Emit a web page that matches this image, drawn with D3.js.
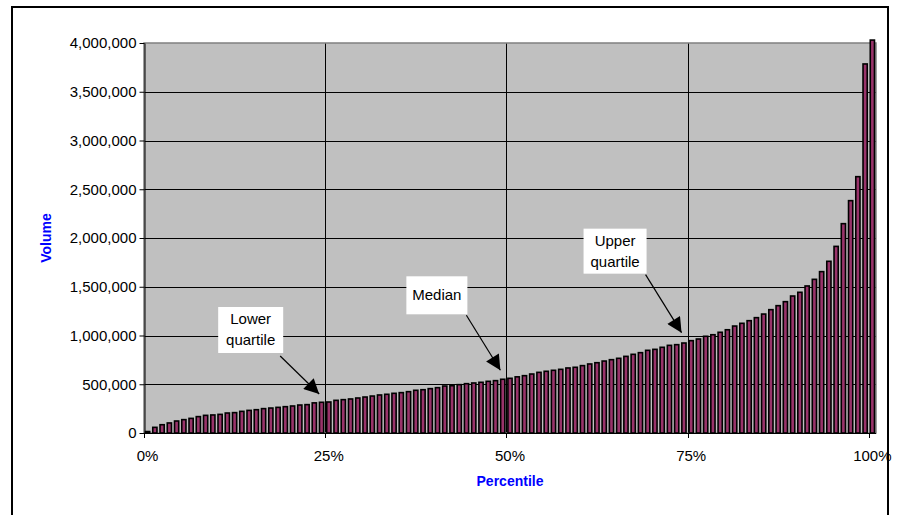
<!DOCTYPE html>
<html>
<head>
<meta charset="utf-8">
<script src="https://cdn.jsdelivr.net/npm/d3@7/dist/d3.min.js"></script>
<style>
  html, body { margin: 0; padding: 0; background: #ffffff; }
  svg { display: block; }
  text { font-family: "Liberation Sans", Arial, sans-serif; }
</style>
</head>
<body>
<svg id="chart" width="897" height="515"></svg>
<script>
// Percentile categories 0% .. 100%
const percentiles = d3.range(0, 101);

// Volume at each percentile
const volumes = [
  15000, 58000, 85000, 103000, 123000, 137000, 150000, 168000, 181000, 185000,
  191000, 205000, 209000, 222000, 232000, 239000, 250000, 256000, 263000, 270000,
  277000, 287000, 291000, 309000, 315000, 318000, 335000, 342000, 349000, 359000,
  369000, 379000, 390000, 397000, 407000, 414000, 424000, 438000, 444000, 455000,
  465000, 482000, 485000, 496000, 506000, 513000, 520000, 530000, 537000, 551000,
  561000, 576000, 588000, 605000, 622000, 633000, 643000, 653000, 667000, 674000,
  691000, 708000, 721000, 738000, 752000, 766000, 786000, 807000, 824000, 848000,
  858000, 879000, 899000, 906000, 923000, 947000, 964000, 992000, 1008000, 1033000,
  1059000, 1097000, 1125000, 1152000, 1183000, 1220000, 1265000, 1306000, 1347000, 1405000,
  1443000, 1508000, 1576000, 1655000, 1761000, 1914000, 2147000, 2383000, 2629000, 3785000,
  4030000
];

// Axis ticks
const yTicks = [0, 500000, 1000000, 1500000, 2000000, 2500000, 3000000, 3500000, 4000000];
const xTickCategories = [0, 25, 50, 75, 100];
const xTickLabels = ["0%", "25%", "50%", "75%", "100%"];

// Call-out labels and the percentile each one points at
const calloutLines = [["Lower", "quartile"], ["Median"], ["Upper", "quartile"]];
const calloutTargets = [25, 50, 75];

const svg = d3.select("#chart");
const plot = { left: 144, right: 876, top: 43, bottom: 433 };

const x = d3.scaleBand()
  .domain(percentiles)
  .range([plot.left, plot.right])
  .paddingInner(0)
  .paddingOuter(0);

const y = d3.scaleLinear()
  .domain([0, 4000000])
  .range([plot.bottom, plot.top]);

// Outer chart frame
svg.append("rect")
  .attr("x", 12).attr("y", 7)
  .attr("width", 876).attr("height", 530)
  .attr("fill", "none")
  .attr("stroke", "#000")
  .attr("stroke-width", 2);

// Plot background
svg.append("rect")
  .attr("x", plot.left).attr("y", plot.top)
  .attr("width", plot.right - plot.left)
  .attr("height", plot.bottom - plot.top)
  .attr("fill", "#c0c0c0");

// Horizontal gridlines
svg.append("g")
  .selectAll("line")
  .data(yTicks.filter(d => d > 0 && d < 4000000))
  .join("line")
  .attr("x1", plot.left).attr("x2", plot.right)
  .attr("y1", d => Math.round(y(d)) + 0.5)
  .attr("y2", d => Math.round(y(d)) + 0.5)
  .attr("stroke", "#000")
  .attr("stroke-width", 1);

// Vertical gridlines at the quartile boundaries
svg.append("g")
  .selectAll("line")
  .data(xTickCategories.filter(d => d > 0 && d < 100))
  .join("line")
  .attr("x1", d => Math.round(x(d)) + 0.5)
  .attr("x2", d => Math.round(x(d)) + 0.5)
  .attr("y1", plot.top).attr("y2", plot.bottom)
  .attr("stroke", "#000")
  .attr("stroke-width", 1);

// Plot area border
svg.append("rect")
  .attr("x", plot.left).attr("y", plot.top)
  .attr("width", plot.right - plot.left)
  .attr("height", plot.bottom - plot.top)
  .attr("fill", "none")
  .attr("stroke", "#808080")
  .attr("stroke-width", 1.5);

// Bars
const barW = 4.2;
svg.append("g")
  .selectAll("rect")
  .data(percentiles)
  .join("rect")
  .attr("x", d => x(d) + x.bandwidth() / 2 - barW / 2)
  .attr("y", d => y(volumes[d]))
  .attr("width", barW)
  .attr("height", d => y(0) - y(volumes[d]))
  .attr("fill", "#99336a")
  .attr("stroke", "#000")
  .attr("stroke-width", 1.6);

// Y axis
const yAxis = svg.append("g")
  .attr("transform", `translate(${plot.left + 0.5},0)`)
  .call(d3.axisLeft(y).tickValues(yTicks).tickFormat(d3.format(",")).tickSize(5).tickSizeOuter(0).tickPadding(3));
yAxis.select(".domain").attr("stroke", "#000");
yAxis.selectAll(".tick line").attr("stroke", "#000");
yAxis.selectAll("text")
  .attr("font-size", 15)
  .attr("font-family", "Liberation Sans, Arial, sans-serif")
  .attr("fill", "#000");

// X axis: ticks on category boundaries, labels centred in the category
const xAxis = svg.append("g");
xAxis.append("line")
  .attr("x1", plot.left).attr("x2", plot.right)
  .attr("y1", plot.bottom + 0.5).attr("y2", plot.bottom + 0.5)
  .attr("stroke", "#000");
xAxis.selectAll("line.tick")
  .data(xTickCategories)
  .join("line")
  .attr("class", "tick")
  .attr("x1", d => Math.round(x(d)) + 0.5)
  .attr("x2", d => Math.round(x(d)) + 0.5)
  .attr("y1", plot.bottom).attr("y2", plot.bottom + 5)
  .attr("stroke", "#000");
xAxis.selectAll("text")
  .data(xTickCategories)
  .join("text")
  .attr("x", d => x(d) + x.bandwidth() / 2)
  .attr("y", plot.bottom + 28)
  .attr("text-anchor", "middle")
  .attr("font-size", 15)
  .attr("fill", "#000")
  .text((d, i) => xTickLabels[i]);

// Axis titles
svg.append("text")
  .attr("x", (plot.left + plot.right) / 2)
  .attr("y", 486)
  .attr("text-anchor", "middle")
  .attr("font-size", 14)
  .attr("font-weight", "bold")
  .attr("fill", "#0000ff")
  .text("Percentile");

svg.append("text")
  .attr("transform", `translate(51,${(plot.top + plot.bottom) / 2}) rotate(-90)`)
  .attr("text-anchor", "middle")
  .attr("font-size", 14)
  .attr("font-weight", "bold")
  .attr("fill", "#0000ff")
  .text("Volume");

// Call-outs: white label box with an arrow pointing at the bar
const defs = svg.append("defs");
defs.append("marker")
  .attr("id", "arrowhead")
  .attr("viewBox", "0 0 10 10")
  .attr("refX", 10).attr("refY", 5)
  .attr("markerWidth", 17).attr("markerHeight", 15)
  .attr("markerUnits", "userSpaceOnUse")
  .attr("orient", "auto")
  .append("path")
  .attr("d", "M0,0 L10,5 L0,10 Z")
  .attr("fill", "#000");

const calloutLayout = [
  { box: [-101, -87, 65, 46], start: [-39, -38] },
  { box: [-94, -94, 61, 38], start: [-34, -55] },
  { box: [-98, -104, 63, 45], start: [-36, -58] }
];

calloutLines.forEach((lines, i) => {
  const idx = calloutTargets[i];
  const tipX = x(idx) - 6;
  const tipY = y(volumes[idx]) - 8;
  const L = calloutLayout[i];
  const g = svg.append("g");
  g.append("line")
    .attr("x1", tipX + L.start[0]).attr("y1", tipY + L.start[1])
    .attr("x2", tipX).attr("y2", tipY)
    .attr("stroke", "#000")
    .attr("stroke-width", 1.2)
    .attr("marker-end", "url(#arrowhead)");
  const bx = tipX + L.box[0], by = tipY + L.box[1];
  g.append("rect")
    .attr("x", bx).attr("y", by)
    .attr("width", L.box[2]).attr("height", L.box[3])
    .attr("fill", "#fff");
  const lineH = 21;
  const firstY = by + L.box[3] / 2 - (lines.length - 1) * lineH / 2 + 5;
  lines.forEach((t, j) => {
    g.append("text")
      .attr("x", bx + L.box[2] / 2)
      .attr("y", firstY + j * lineH)
      .attr("text-anchor", "middle")
      .attr("font-size", 15)
      .attr("fill", "#000")
      .text(t);
  });
});
</script>
</body>
</html>
